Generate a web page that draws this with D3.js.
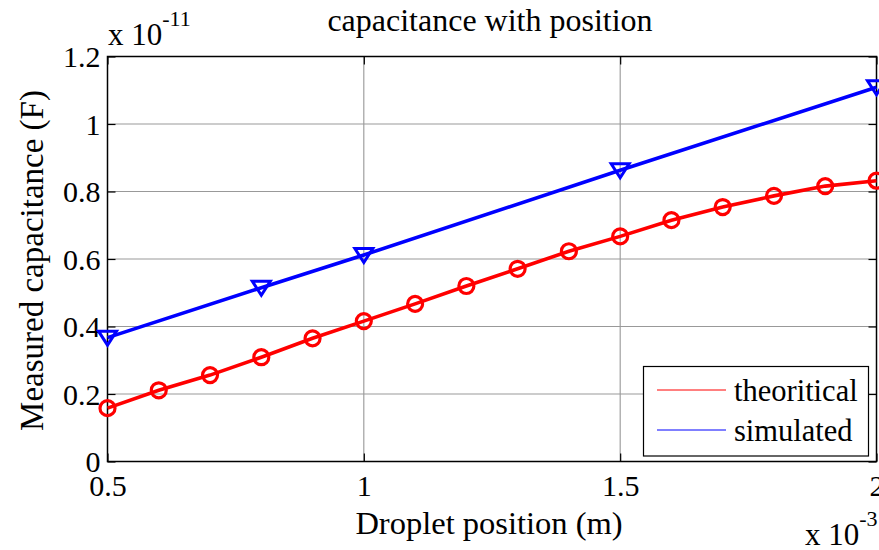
<!DOCTYPE html>
<html>
<head>
<meta charset="utf-8">
<script src="https://cdn.jsdelivr.net/npm/d3@7/dist/d3.min.js"></script>
<style>
  html, body { margin: 0; padding: 0; background: #fff; }
  svg { display: block; }
  text { font-family: "Liberation Serif", "Times New Roman", serif; fill: #000; }
</style>
</head>
<body>
<svg id="chart" width="879" height="550"></svg>
<script>
// Droplet position in units of 1e-3 m, capacitance in units of 1e-11 F
const theoX = [0.5, 0.6, 0.7, 0.8, 0.9, 1.0, 1.1, 1.2, 1.3, 1.4, 1.5, 1.6, 1.7, 1.8, 1.9, 2.0];
const theoY = [0.158, 0.211, 0.256, 0.309, 0.365, 0.416, 0.467, 0.520, 0.571, 0.623, 0.667, 0.715, 0.754, 0.787, 0.816, 0.832];
const simX = [0.5, 0.8, 1.0, 1.5, 2.0];
const simY = [0.367, 0.515, 0.612, 0.863, 1.109];
const xTicks = [0.5, 1, 1.5, 2];
const xTickLabels = ["0.5", "1", "1.5", "2"];
const yTicks = [0, 0.2, 0.4, 0.6, 0.8, 1.0, 1.2];
const yTickLabels = ["0", "0.2", "0.4", "0.6", "0.8", "1", "1.2"];
const seriesNames = ["theoritical", "simulated"];

const svg = d3.select("#chart");
const plotL = 107.5, plotR = 876.5, plotT = 56.5, plotB = 461.5;

const x = d3.scaleLinear().domain([0.5, 2]).range([plotL, plotR]);
const y = d3.scaleLinear().domain([0, 1.2]).range([plotB, plotT]);

// grid
const grid = svg.append("g");
grid.selectAll("line.gx").data(xTicks.filter(t => t > 0.5 && t < 2)).enter().append("line")
  .attr("x1", d => x(d)).attr("x2", d => x(d)).attr("y1", plotT).attr("y2", plotB)
  .attr("stroke", "#8c8c8c").attr("stroke-width", 1);
grid.selectAll("line.gy").data(yTicks.filter(t => t > 0 && t < 1.2)).enter().append("line")
  .attr("x1", plotL).attr("x2", plotR).attr("y1", d => y(d)).attr("y2", d => y(d))
  .attr("stroke", "#999999").attr("stroke-width", 1);

// axes with inward ticks on all four sides
const tickLen = 8;
const axB = d3.axisBottom(x).tickValues(xTicks).tickSize(-tickLen).tickFormat((d, i) => xTickLabels[i]);
const axT = d3.axisTop(x).tickValues(xTicks).tickSize(-tickLen).tickFormat("");
const axL = d3.axisLeft(y).tickValues(yTicks).tickSize(-tickLen).tickFormat((d, i) => yTickLabels[i]);
const axR = d3.axisRight(y).tickValues(yTicks).tickSize(-tickLen).tickFormat("");

function styleAxis(g) {
  g.select(".domain").remove();
  g.selectAll(".tick line").attr("stroke", "#000").attr("stroke-width", 1.2);
  g.selectAll(".tick text").attr("font-family", "Liberation Serif").attr("font-size", 30).attr("fill", "#000");
}
svg.append("g").attr("transform", `translate(0,${plotB})`).call(axB).call(styleAxis)
  .selectAll(".tick text").attr("y", 13);
svg.append("g").attr("transform", `translate(0,${plotT})`).call(axT).call(styleAxis);
svg.append("g").attr("transform", `translate(${plotL},0)`).call(axL).call(styleAxis)
  .selectAll(".tick text").attr("x", -7).attr("dy", "0.34em");
svg.append("g").attr("transform", `translate(${plotR},0)`).call(axR).call(styleAxis);

// box
svg.append("rect").attr("x", plotL).attr("y", plotT).attr("width", plotR - plotL).attr("height", plotB - plotT)
  .attr("fill", "none").attr("stroke", "#000").attr("stroke-width", 1.5);

// series
const line = d3.line().x(d => x(d[0])).y(d => y(d[1]));
const theo = theoX.map((v, i) => [v, theoY[i]]);
const sim = simX.map((v, i) => [v, simY[i]]);

svg.append("path").datum(sim).attr("d", line).attr("fill", "none").attr("stroke", "#0000ff").attr("stroke-width", 3.6);
svg.append("path").datum(theo).attr("d", line).attr("fill", "none").attr("stroke", "#ff0000").attr("stroke-width", 3.6);

svg.selectAll("circle.m").data(theo).enter().append("circle")
  .attr("cx", d => x(d[0])).attr("cy", d => y(d[1])).attr("r", 7.5)
  .attr("fill", "none").attr("stroke", "#ff0000").attr("stroke-width", 3.2);

// downward-pointing triangle marker, centred on its bounding box
const triDown = {
  draw(ctx) {
    ctx.moveTo(-9, -6.5);
    ctx.lineTo(9, -6.5);
    ctx.lineTo(0, 7.5);
    ctx.closePath();
  }
};
svg.selectAll("path.t").data(sim).enter().append("path")
  .attr("d", d3.symbol().type(triDown))
  .attr("transform", d => `translate(${x(d[0])},${y(d[1])})`)
  .attr("fill", "none").attr("stroke", "#0000ff").attr("stroke-width", 3);

// title and labels
svg.append("text").attr("x", 490).attr("y", 31).attr("text-anchor", "middle")
  .attr("font-size", 32).text("capacitance with position");
svg.append("text").attr("x", 489).attr("y", 534).attr("text-anchor", "middle")
  .attr("font-size", 32.5).text("Droplet position (m)");
svg.append("text").attr("transform", "translate(43,260.5) rotate(-90)").attr("text-anchor", "middle")
  .attr("font-size", 33).text("Measured capacitance (F)");

// exponent labels
const ey = svg.append("text").attr("x", 108).attr("y", 45).attr("font-size", 31);
ey.append("tspan").text("x 10");
ey.append("tspan").attr("font-size", 22).attr("dy", -19).text("-11");
const ex = svg.append("text").attr("x", 805).attr("y", 545).attr("font-size", 31);
ex.append("tspan").text("x 10");
ex.append("tspan").attr("font-size", 22).attr("dy", -19).text("-3");

// legend
const lg = svg.append("g");
lg.append("rect").attr("x", 643.5).attr("y", 366.5).attr("width", 225).attr("height", 89.5)
  .attr("fill", "#fff").attr("stroke", "#000").attr("stroke-width", 1.2);
const colors = ["#ff0000", "#0000ff"];
const rowY = [390, 430];
seriesNames.forEach((name, i) => {
  lg.append("line").attr("x1", 657).attr("x2", 726).attr("y1", rowY[i]).attr("y2", rowY[i])
    .attr("stroke", colors[i]).attr("stroke-width", 1);
  lg.append("text").attr("x", 734).attr("y", rowY[i] + 10.5).attr("font-size", 30.5).text(name);
});
</script>
</body>
</html>
